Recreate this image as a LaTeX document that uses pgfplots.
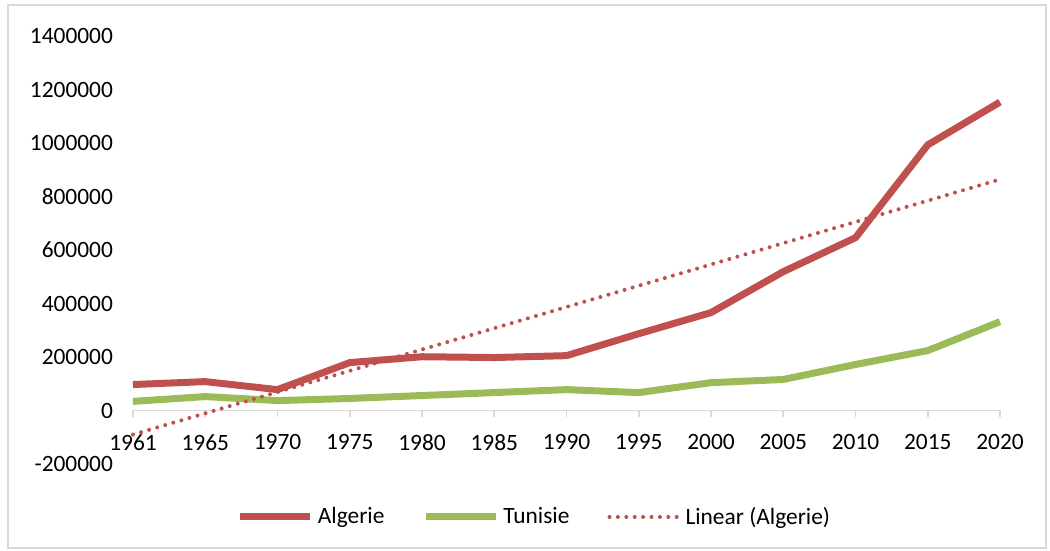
\documentclass[border=0pt]{standalone}
\usepackage{pgfplots}
\pgfplotsset{compat=1.18}
\usepackage{fontspec}
\setmainfont{Carlito}
\definecolor{algred}{HTML}{C0504D}
\definecolor{tungreen}{HTML}{9BBB59}
\definecolor{axgray}{HTML}{D9D9D9}
\begin{document}
\begin{tikzpicture}
\useasboundingbox (-66.5pt,-43.5pt) rectangle (458.5pt,232pt);
\draw[axgray, line width=0.8pt] (-62.5pt,-42pt) rectangle (456.5pt,229.5pt);
\begin{axis}[
  at={(0,0)}, anchor=south west,
  scale only axis, width=433.5pt, height=214pt,
  xmin=0, xmax=12, ymin=-200000, ymax=1400000,
  clip=false,
  scaled y ticks=false,
  hide obscured x ticks=false,
  hide obscured y ticks=false,
  axis x line*=middle,
  axis y line*=left,
  y axis line style={draw=none},
  x axis line style={draw=axgray, line width=0.8pt, -},
  xtick={0,...,12},
  xticklabels={1961,1965,1970,1975,1980,1985,1990,1995,2000,2005,2010,2015,2020},
  xtick align=outside,
  major tick length=3.5pt,
  xtick style={draw=axgray, line width=0.8pt},
  ytick style={draw=none},
  ytick={-200000,0,200000,400000,600000,800000,1000000,1200000,1400000},
  yticklabels={-200000,0,200000,400000,600000,800000,1000000,1200000,1400000},
  tick label style={font=\fontsize{11.7}{14}\selectfont, text=black},
  yticklabel style={xshift=-6.5pt},
  xticklabel style={yshift=-5pt},
  legend columns=3,
  legend style={draw=none, at={(0.4642,-0.1238)}, anchor=center,
    font=\fontsize{11.7}{14}\selectfont, /tikz/every even column/.append style={column sep=17pt}},
  legend image code/.code={\draw[#1] (0pt,0pt) -- (35pt,0pt);},
]
\addplot[algred, line width=3.5pt, line join=round] coordinates {
(0,97000) (1,108000) (2,78000) (3,179000) (4,201000) (5,198000) (6,205000)
(7,287000) (8,366000) (9,519000) (10,646000) (11,993000) (12,1153000)};
\addlegendentry{Algerie}
\addplot[tungreen, line width=3.5pt, line join=round] coordinates {
(0,34000) (1,52000) (2,37000) (3,45000) (4,56000) (5,67000) (6,78000)
(7,67000) (8,104000) (9,116000) (10,172000) (11,224000) (12,332000)};
\addlegendentry{Tunisie}
\addplot[algred, line width=2pt, line cap=round, dash pattern=on 0pt off 4.2pt] coordinates {
(0,-90000) (12,864000)};
\addlegendentry{Linear (Algerie)}
\end{axis}
\end{tikzpicture}
\end{document}
